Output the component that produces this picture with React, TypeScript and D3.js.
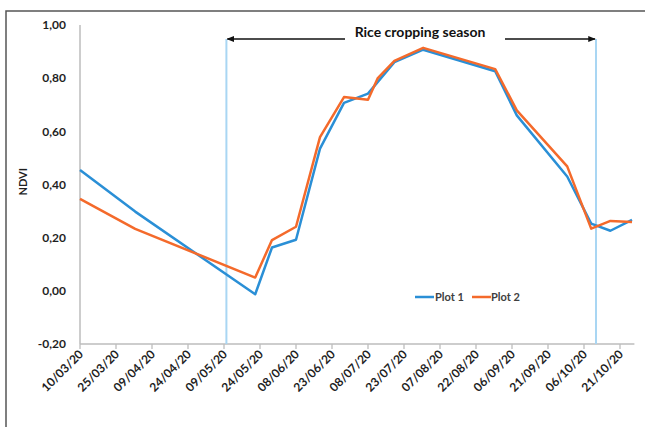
import React from "react";
import * as d3 from "d3";

const obsDates = ["2020-03-10","2020-04-02","2020-05-22","2020-05-29","2020-06-08","2020-06-18","2020-06-28","2020-07-08","2020-07-12","2020-07-19","2020-07-31","2020-08-30","2020-09-08","2020-09-29","2020-10-09","2020-10-17","2020-10-26"];
const plot1 = [0.455,0.298,-0.013,0.163,0.192,0.535,0.707,0.742,0.785,0.86,0.907,0.826,0.66,0.43,0.253,0.226,0.267];
const plot2 = [0.346,0.233,0.05,0.191,0.241,0.578,0.729,0.719,0.799,0.865,0.914,0.834,0.679,0.468,0.234,0.263,0.259];
const xTickLabels = ["10/03/20","25/03/20","09/04/20","24/04/20","09/05/20","24/05/20","08/06/20","23/06/20","08/07/20","23/07/20","07/08/20","22/08/20","06/09/20","21/09/20","06/10/20","21/10/20"];
const yTicks = [-0.2, 0, 0.2, 0.4, 0.6, 0.8, 1.0];
const seasonBounds = ["2020-05-10", "2020-10-11"];
const xDomain = ["2020-03-10", "2020-10-27"];
const seriesNames = ["Plot 1", "Plot 2"];
const seasonLabel = "Rice cropping season";

const W = 645, H = 427;
const FONT = "Lato, 'Open Sans', sans-serif";
const BLUE = "#2a8fd6";
const ORANGE = "#f46a2b";
const TXT = "#1f1f1f";

export default function App() {
  const parse = d3.utcParse("%Y-%m-%d");
  const parseTick = d3.utcParse("%d/%m/%y");
  const x = d3.scaleUtc().domain(xDomain.map((d) => parse(d)!)).range([80, 634.4]);
  const y = d3.scaleLinear().domain([-0.2, 1.0]).range([344, 25]);
  const line = d3
    .line<[Date, number]>()
    .x((d) => x(d[0]))
    .y((d) => y(d[1]));
  const d1 = obsDates.map((d, i) => [parse(d)!, plot1[i]] as [Date, number]);
  const d2 = obsDates.map((d, i) => [parse(d)!, plot2[i]] as [Date, number]);
  const fmt = (v: number) => d3.format(".2f")(v).replace(".", ",").replace("−", "-");
  const sx = seasonBounds.map((d) => x(parse(d)!));
  const arrowY = 39;
  const [x0, x1] = x.range();

  return (
    <svg
      width={W}
      height={H}
      style={{ position: "absolute", left: 0, top: 0, background: "#fff" }}
      fontFamily={FONT}
    >
      <defs>
        <marker id="ah" viewBox="0 0 10 10" refX="9" refY="5" markerWidth="5" markerHeight="5" orient="auto-start-reverse">
          <path d="M0,1 L10,5 L0,9 z" fill="#111" />
        </marker>
      </defs>
      <rect x={0} y={0} width={W} height={H} fill="#fff" />
      <path d={`M6,${H} L6,11 L${W},11`} fill="none" stroke="#555" strokeWidth={1.5} />

      <line x1={x0} x2={x0} y1={y(1.0)} y2={y(-0.2)} stroke="#bdbdbd" strokeWidth={1.5} />
      <line x1={x0} x2={x1} y1={y(-0.2)} y2={y(-0.2)} stroke="#bdbdbd" strokeWidth={1.5} />
      {xTickLabels.map((t) => {
        const tx = x(parseTick(t)!);
        return (
          <g key={t}>
            <line x1={tx} x2={tx} y1={y(-0.2)} y2={y(-0.2) + 5} stroke="#bdbdbd" strokeWidth={1.3} />
            <text
              transform={`translate(${tx + 4},${y(-0.2) + 11}) rotate(-45)`}
              textAnchor="end"
              fontSize={12}
              fontWeight="bold"
              fill={TXT}
            >
              {t}
            </text>
          </g>
        );
      })}
      {yTicks.map((v) => (
        <text key={v} x={66} y={y(v)} dy="0.35em" textAnchor="end" fontSize={12} fontWeight="bold" fill={TXT}>
          {fmt(v)}
        </text>
      ))}
      <text
        transform={`translate(23,${y(0.41)}) rotate(-90)`}
        textAnchor="middle"
        dy="0.35em"
        fontSize={11}
        fontWeight="bold"
        fill={TXT}
      >
        NDVI
      </text>

      {sx.map((v, i) => (
        <line key={i} x1={v} x2={v} y1={arrowY} y2={y(-0.2)} stroke="#a9d6f3" strokeWidth={2} />
      ))}
      <line x1={sx[0] + 1} x2={345} y1={arrowY} y2={arrowY} stroke="#111" strokeWidth={1.5} markerStart="url(#ah)" />
      <line x1={505} x2={sx[1] - 1} y1={arrowY} y2={arrowY} stroke="#111" strokeWidth={1.5} markerEnd="url(#ah)" />
      <text x={420} y={37} textAnchor="middle" fontSize={14} fontWeight="bold" fill="#111">
        {seasonLabel}
      </text>

      <path d={line(d1)!} fill="none" stroke={BLUE} strokeWidth={2.5} strokeLinejoin="round" />
      <path d={line(d2)!} fill="none" stroke={ORANGE} strokeWidth={2.5} strokeLinejoin="round" />

      <g fontSize={11} fontWeight="bold" fill="#404040">
        <line x1={415} x2={434} y1={297} y2={297} stroke={BLUE} strokeWidth={2.5} />
        <text x={435} y={297} dy="0.35em">{seriesNames[0]}</text>
        <line x1={472} x2={491} y1={297} y2={297} stroke={ORANGE} strokeWidth={2.5} />
        <text x={491} y={297} dy="0.35em">{seriesNames[1]}</text>
      </g>
    </svg>
  );
}
